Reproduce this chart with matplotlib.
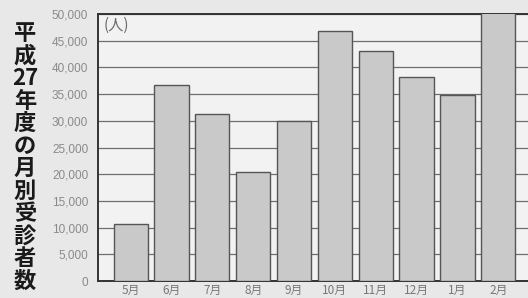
import numpy as np
import matplotlib.pyplot as plt

months = ['5月', '6月', '7月', '8月', '9月', '10月', '11月', '12月', '1月', '2月']
patients = [10700, 36700, 31300, 20400, 30000, 46800, 43100, 38200, 34800, 51000]
yticks = [0, 5000, 10000, 15000, 20000, 25000, 30000, 35000, 40000, 45000, 50000]
title_chars = ['平', '成', '27', '年', '度', 'の', '月', '別', '受', '診', '者', '数']

plt.rcParams['font.family'] = ['Noto Sans CJK JP', 'DejaVu Sans']

fig = plt.figure(figsize=(5.28, 2.98), dpi=100)
fig.patch.set_facecolor('#e8e8e8')
ax = fig.add_axes([98 / 528, 17 / 298, 1 - 98 / 528, 267 / 298])
ax.set_facecolor('#f2f2f2')

x = np.arange(len(months))
ax.bar(x, patients, width=0.84, color='#c9c9c9', edgecolor='#555555',
       linewidth=1.0, zorder=3)

ax.set_ylim(0, 50000)
ax.set_xlim(-0.8, 9.73)
ax.set_yticks(yticks)
ax.set_yticklabels([f'{v:,}' for v in yticks], color='#8a8a8a',
                   fontsize=8.5, family=['Liberation Sans', 'DejaVu Sans'])
ax.set_xticks(x)
ax.set_xticklabels(months, color='#777777', fontsize=8.5)
ax.tick_params(axis='both', length=0, pad=7)
ax.tick_params(axis='x', pad=2)

ax.yaxis.grid(True, color='#6e6e6e', linewidth=0.9, zorder=1)
ax.set_axisbelow(True)
for side in ['left', 'bottom', 'top']:
    ax.spines[side].set_color('#333333')
    ax.spines[side].set_linewidth(1.4)
ax.spines['right'].set_visible(False)

ax.text(0.012, 0.99, '(人)', transform=ax.transAxes, ha='left', va='top',
        color='#6a6a6a', fontsize=11)

# vertical title, one character per slot
top_y, step = 1 - 34 / 298, 22.45 / 298
for i, ch in enumerate(title_chars):
    fig.text(25 / 528, top_y - i * step, ch, ha='center', va='center',
             fontsize=16, fontweight='bold', color='#1a1a1a')

fig.savefig('out.png', dpi=100, facecolor=fig.get_facecolor())
